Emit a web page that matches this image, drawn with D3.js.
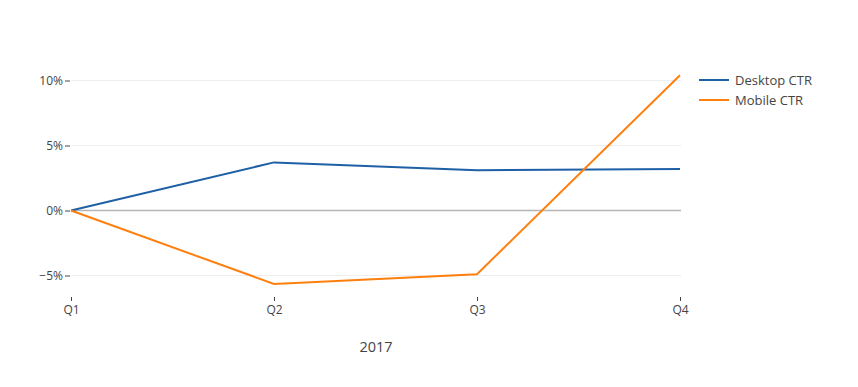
<!DOCTYPE html>
<html>
<head>
<meta charset="utf-8">
<script src="https://cdn.jsdelivr.net/npm/d3@7"></script>
<style>
  body { margin: 0; background: #fff; }
  text { font-family: "Open Sans", sans-serif; fill: #444; }
</style>
</head>
<body>
<svg width="858" height="387"></svg>
<script>
// quarters and the two series (percent change)
var quarters = ['Q1', 'Q2', 'Q3', 'Q4']
var desktopCTR = [0, 3.7, 3.1, 3.2]
var mobileCTR = [0, -5.65, -4.9, 10.4]
var yTicks = [-5, 0, 5, 10]
var seriesNames = ['Desktop CTR', 'Mobile CTR']
var colors = ['#1f5fa6', '#ff7f0e']

var svg = d3.select('svg')

var x = d3.scalePoint().domain(quarters).range([71, 680])
// 0% at 210, 13px per %
var y = d3.scaleLinear().domain([0, 10]).range([210.5, 80.5])

// grid lines
svg.append('g').selectAll('line')
  .data(yTicks.filter(function(d){ return d != 0 }))
  .enter().append('line')
  .attr('x1', 71).attr('x2', 681)
  .attr('y1', function(d){ return y(d) }).attr('y2', function(d){ return y(d) })
  .attr('stroke', '#eee').attr('stroke-width', 1)

// zero line
svg.append('line')
  .attr('x1', 71).attr('x2', 681)
  .attr('y1', y(0)).attr('y2', y(0))
  .attr('stroke', '#b5b5b5').attr('stroke-width', 1.5)

// y axis (ticks + labels)
var yAxis = svg.append('g').attr('transform', 'translate(70,0)')
  .call(d3.axisLeft(y).tickValues(yTicks).tickSize(5).tickPadding(2)
    .tickFormat(function(d){ return (d < 0 ? '\u2212' + (-d) : d) + '%' }))
yAxis.select('.domain').remove()
yAxis.selectAll('line').attr('stroke', '#444')
yAxis.selectAll('text').attr('font-size', 12).attr('fill', '#444').attr('font-family', '"Open Sans", sans-serif')

// x axis
var xAxis = svg.append('g').attr('transform', 'translate(0,297)')
  .call(d3.axisBottom(x).tickSize(4).tickPadding(4))
xAxis.select('.domain').remove()
xAxis.selectAll('line').attr('stroke', '#444')
xAxis.selectAll('text').attr('font-size', 12).attr('fill', '#444').attr('font-family', '"Open Sans", sans-serif')

svg.append('text')
  .attr('x', 376).attr('y', 352)
  .attr('text-anchor', 'middle')
  .attr('font-size', 14.5)
  .text('2017')

var line = d3.line()
  .x(function(d, i){ return x(quarters[i]) })
  .y(function(d){ return y(d) })

var allSeries = [desktopCTR, mobileCTR]
svg.append('g').selectAll('path')
  .data(allSeries)
  .enter().append('path')
  .attr('d', line)
  .attr('fill', 'none')
  .attr('stroke', function(d, i){ return colors[i] })
  .attr('stroke-width', 2)

// legend
var legend = svg.append('g').selectAll('g')
  .data(seriesNames)
  .enter().append('g')
  .attr('transform', function(d, i){ return 'translate(699,' + (80 + i * 20) + ')' })
legend.append('line')
  .attr('x1', 0).attr('x2', 30)
  .attr('stroke', function(d, i){ return colors[i] })
  .attr('stroke-width', 2)
legend.append('text')
  .attr('x', 36).attr('y', 4.5)
  .attr('font-size', 13)
  .text(function(d){ return d })
</script>
</body>
</html>
